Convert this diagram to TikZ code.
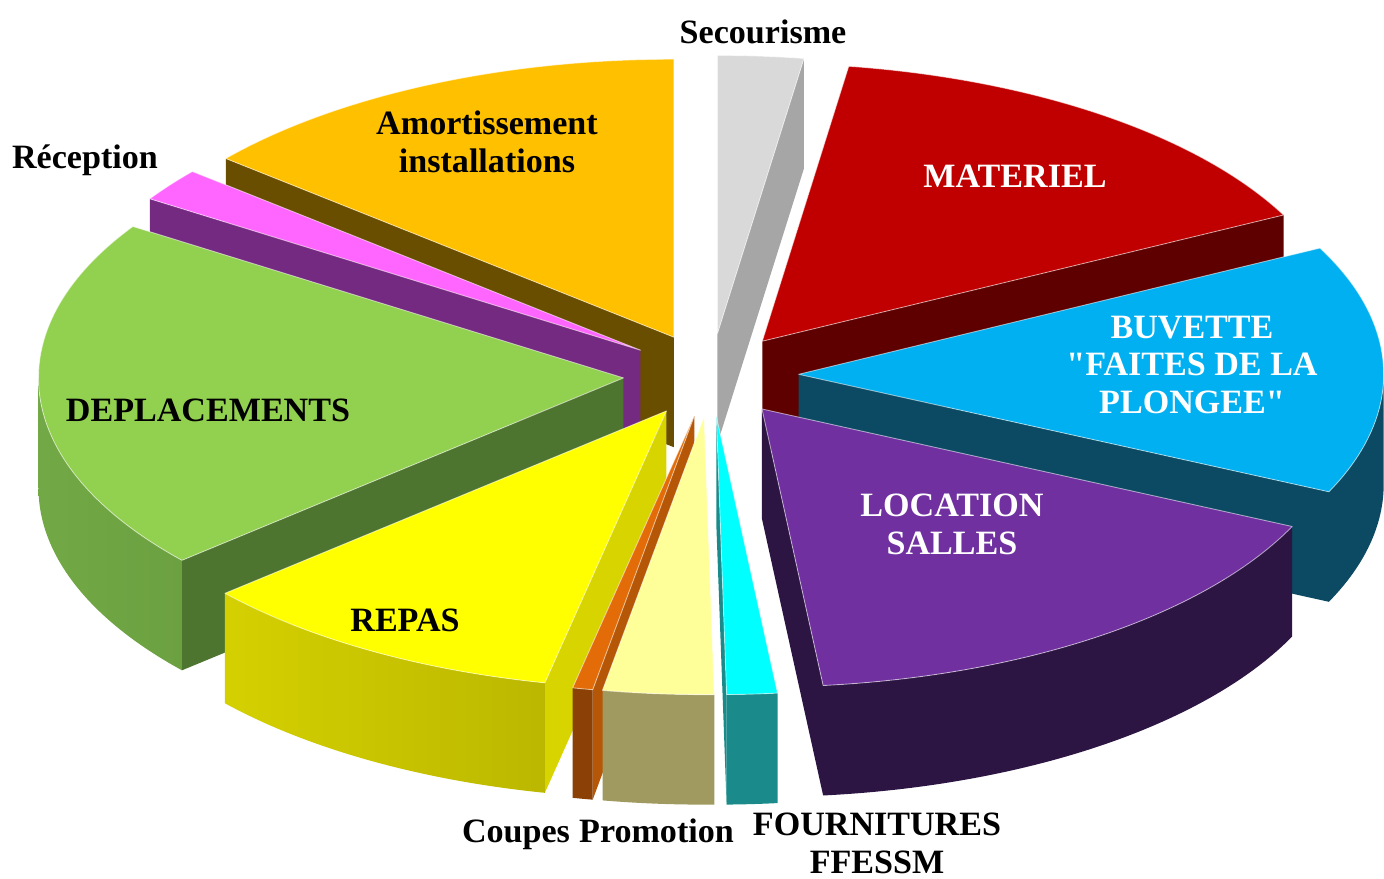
\documentclass[tikz,border=0pt]{standalone}
\usepackage{fontspec}
\setmainfont{Liberation Serif}
\definecolor{amoTop}{HTML}{FFC000}
\definecolor{amoSide}{HTML}{6A4E00}
\definecolor{secTop}{HTML}{D9D9D9}
\definecolor{secSide}{HTML}{A6A6A6}
\definecolor{matTop}{HTML}{C00000}
\definecolor{matSide}{HTML}{5E0000}
\definecolor{recTop}{HTML}{FF66FF}
\definecolor{recSide}{HTML}{742A80}
\definecolor{buvTop}{HTML}{00B0F0}
\definecolor{buvSide}{HTML}{0B4A62}
\definecolor{depTop}{HTML}{92D050}
\definecolor{depSide}{HTML}{4E7530}
\definecolor{depOut}{HTML}{72A845}
\definecolor{depOut2}{HTML}{5A8A36}
\definecolor{locTop}{HTML}{7030A0}
\definecolor{locSide}{HTML}{2C1542}
\definecolor{repTop}{HTML}{FFFF00}
\definecolor{repSide}{HTML}{D8D400}
\definecolor{repOut}{HTML}{D4D000}
\definecolor{repOut2}{HTML}{B2AE00}
\definecolor{couTop}{HTML}{E36C09}
\definecolor{couSide}{HTML}{8B4005}
\definecolor{proTop}{HTML}{FFFF99}
\definecolor{proSide}{HTML}{A09A60}
\definecolor{fouTop}{HTML}{00FFFF}
\definecolor{fouSide}{HTML}{1A8A8A}

\begin{document}
\begin{tikzpicture}[scale=0.2]
\tikzset{rim/.style={x radius=58.5,y radius=27.8},
top/.style={draw=white,draw opacity=0.55,line width=0.5pt,line join=round},
lbl/.style={font=\bfseries\fontsize{19.4}{21.6}\selectfont,align=center,inner sep=0pt}}
\useasboundingbox (0,0) rectangle (138.4,87.8);

% apex of each slice
\coordinate (amo) at (67.39,54.08);
\coordinate (sec) at (71.75,54.46);
\coordinate (mat) at (76.23,53.68);
\coordinate (rec) at (64.05,52.78);
\coordinate (buv) at (79.87,50.37);
\coordinate (dep) at (62.35,50.01);
\coordinate (loc) at (76.20,46.90);
\coordinate (rep) at (66.65,46.71);
\coordinate (cou) at (69.43,46.21);
\coordinate (pro) at (70.41,46.14);
\coordinate (fou) at (71.64,46.14);

% back slices
\fill[amoSide] (amo) -- ++(140:58.5 and 27.8) -- ++(0,-11) -- ++(320:58.5 and 27.8) -- cycle;
\fill[amoTop,top] (amo) -- ++(90:58.5 and 27.8) arc[rim,start angle=90,end angle=140] -- cycle;

\fill[secSide] (sec) -- ++(81.5:58.5 and 27.8) -- ++(0,-11) -- ++(261.5:58.5 and 27.8) -- cycle;
\fill[secTop,top] (sec) -- ++(81.5:58.5 and 27.8) arc[rim,start angle=81.5,end angle=90] -- cycle;

\fill[matSide] (mat) -- ++(27:58.5 and 27.8) -- ++(0,-11) -- ++(207:58.5 and 27.8) -- cycle;
\fill[matTop,top] (mat) -- ++(27:58.5 and 27.8) arc[rim,start angle=27,end angle=81.5] -- cycle;

\fill[recSide] (rec) -- ++(147:58.5 and 27.8) -- ++(0,-11) -- ++(327:58.5 and 27.8) -- cycle;
\fill[recTop,top] (rec) -- ++(140:58.5 and 27.8) arc[rim,start angle=140,end angle=147] -- cycle;

% middle slices
\fill[buvSide] (buv) -- ++(-25:58.5 and 27.8) -- ++(0,-11) -- ++(155:58.5 and 27.8) -- cycle;
\fill[buvSide] (buv) ++(-25:58.5 and 27.8) arc[rim,start angle=-25,end angle=0] -- ++(0,-11) arc[rim,start angle=0,end angle=-25] -- cycle;
\fill[buvTop,top] (buv) -- ++(-25:58.5 and 27.8) arc[rim,start angle=-25,end angle=27] -- cycle;

\fill[depSide] (dep) -- ++(221:58.5 and 27.8) -- ++(0,-11) -- ++(41:58.5 and 27.8) -- cycle;
\shade[left color=depOut,right color=depOut2] (dep) ++(180:58.5 and 27.8) arc[rim,start angle=180,end angle=221] -- ++(0,-11) arc[rim,start angle=221,end angle=180] -- cycle;
\fill[depTop,top] (dep) -- ++(147:58.5 and 27.8) arc[rim,start angle=147,end angle=221] -- cycle;

\fill[locSide] (loc) -- ++(-84:58.5 and 27.8) -- ++(0,-11) -- ++(96:58.5 and 27.8) -- cycle;
\fill[locSide] (loc) ++(-84:58.5 and 27.8) arc[rim,start angle=-84,end angle=-25] -- ++(0,-11) arc[rim,start angle=-25,end angle=-84] -- cycle;
\fill[locTop,top] (loc) -- ++(-84:58.5 and 27.8) arc[rim,start angle=-84,end angle=-25] -- cycle;

% front slices
\fill[repSide] (rep) -- ++(-102:58.5 and 27.8) -- ++(0,-11) -- ++(78:58.5 and 27.8) -- cycle;
\shade[left color=repOut,right color=repOut2] (rep) ++(-139:58.5 and 27.8) arc[rim,start angle=-139,end angle=-102] -- ++(0,-11) arc[rim,start angle=-102,end angle=-139] -- cycle;
\fill[repTop,top] (rep) -- ++(-139:58.5 and 27.8) arc[rim,start angle=-139,end angle=-102] -- cycle;

\fill[couTop!80!black] (cou) -- ++(-100:58.5 and 27.8) -- ++(0,-11) -- ++(80:58.5 and 27.8) -- cycle;
\fill[couSide] (cou) ++(-102:58.5 and 27.8) arc[rim,start angle=-102,end angle=-100] -- ++(0,-11) arc[rim,start angle=-100,end angle=-102] -- cycle;
\fill[couTop,top] (cou) -- ++(-102:58.5 and 27.8) arc[rim,start angle=-102,end angle=-100] -- cycle;

\fill[proSide] (pro) ++(-100:58.5 and 27.8) arc[rim,start angle=-100,end angle=-89] -- ++(0,-11) arc[rim,start angle=-89,end angle=-100] -- cycle;
\fill[proTop,top] (pro) -- ++(-100:58.5 and 27.8) arc[rim,start angle=-100,end angle=-89] -- cycle;

\fill[fouSide] (fou) -- ++(-89:58.5 and 27.8) -- ++(0,-11) -- ++(91:58.5 and 27.8) -- cycle;
\fill[fouSide] (fou) ++(-89:58.5 and 27.8) arc[rim,start angle=-89,end angle=-84] -- ++(0,-11) arc[rim,start angle=-84,end angle=-89] -- cycle;
\fill[fouTop,top] (fou) -- ++(-89:58.5 and 27.8) arc[rim,start angle=-89,end angle=-84] -- cycle;

% labels
\node[lbl] (secLbl) at (76.3,84.6) {Secourisme};
\node[lbl] (amoLbl) at (48.7,73.6) {Amortissement\\installations};
\node[lbl] (recLbl) at (8.5,71.8) {Réception};
\node[lbl,text=white] (matLbl) at (101.5,70.2) {MATERIEL};
\node[lbl,text=white] (buvLbl) at (119.2,51.3) {BUVETTE\\\textquotedbl FAITES DE LA\\PLONGEE\textquotedbl};
\node[lbl] (depLbl) at (20.8,46.8) {DEPLACEMENTS};
\node[lbl,text=white] (locLbl) at (95.2,35.4) {LOCATION\\SALLES};
\node[lbl] (repLbl) at (40.5,25.8) {REPAS};
\node[lbl,anchor=base] (couLbl) at (51.6,3.6) {Coupes};
\node[lbl,anchor=base] (proLbl) at (65.65,3.6) {Promotion};
\node[lbl] (fouLbl) at (87.7,3.5) {FOURNITURES\\FFESSM};

\end{tikzpicture}
\end{document}
